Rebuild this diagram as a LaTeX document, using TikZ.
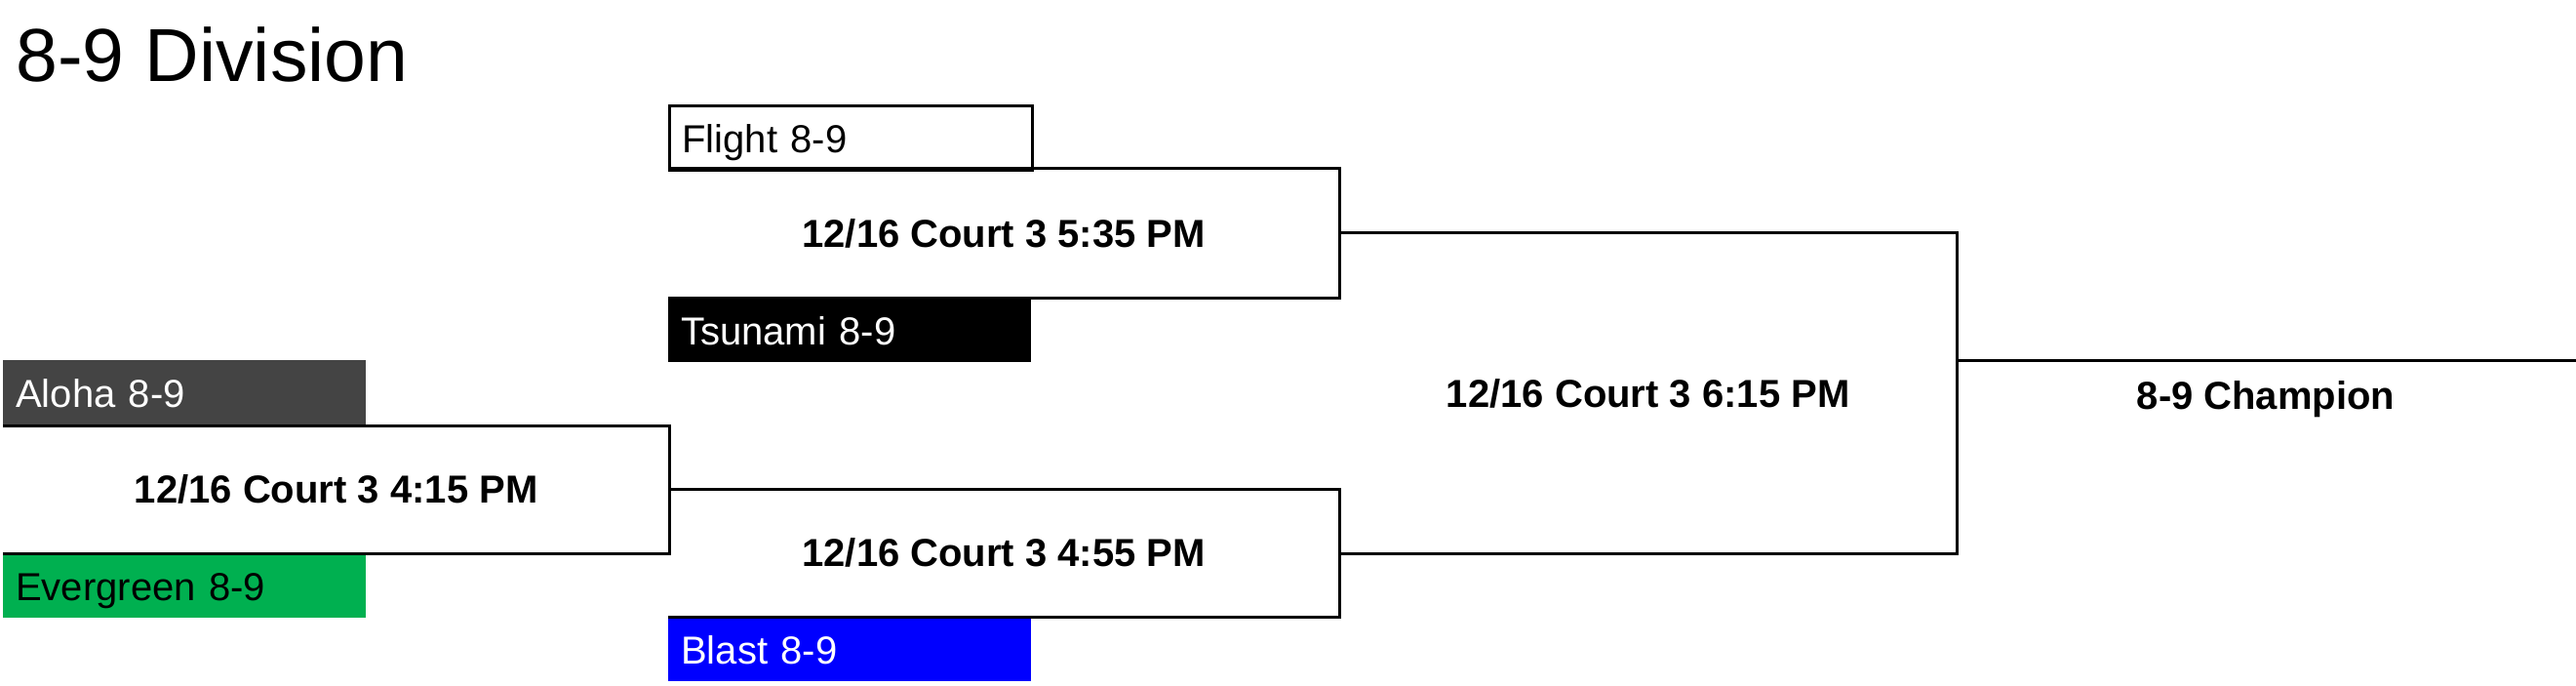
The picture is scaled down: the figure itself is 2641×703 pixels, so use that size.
\documentclass[tikz,border=0pt]{standalone}
\usepackage{fontspec}
\setmainfont{Liberation Sans}
\definecolor{aloha}{HTML}{444444}
\definecolor{evergreen}{HTML}{00B050}
\definecolor{blast}{HTML}{0000FF}

\begin{document}
\begin{tikzpicture}[
  x=1pt, y=-1pt,
  every node/.style = {inner sep=0pt, font=\fontsize{40}{48}\selectfont},
  team/.style = {anchor=north west, minimum height=66pt, inner xsep=13pt, text width=346pt, align=left, text height=36pt, text depth=5pt},
  game/.style = {anchor=north west, font=\fontsize{40}{48}\selectfont\bfseries},
  bracket/.style = {line width=3pt, draw=black, line join=miter}
]
  \useasboundingbox (0,0) rectangle (2641,703);

  \node[anchor=base west, font=\fontsize{77}{90}\selectfont] (title) at (16,84) {8-9 Division};

  % teams
  \node[team, draw, line width=3pt, fill=white] (flight) at (685,107) {Flight 8-9};
  \node[team, fill=black, text=white] (tsunami) at (685,305) {Tsunami 8-9};
  \node[team, fill=aloha, text=white] (aloha) at (3,369) {Aloha 8-9};
  \node[team, fill=evergreen, text=black] (evergreen) at (3,567) {Evergreen 8-9};
  \node[team, fill=blast, text=white] (blast) at (685,632) {Blast 8-9};

  % games
  \node[game, minimum width=688pt, minimum height=132pt] (g535) at (685,173) {12/16 Court 3 5:35 PM};
  \node[game, minimum width=683pt, minimum height=131pt] (g415) at (3,436) {12/16 Court 3 4:15 PM};
  \node[game, minimum width=688pt, minimum height=131pt] (g455) at (685,501) {12/16 Court 3 4:55 PM};
  \node[game, minimum width=633pt, minimum height=328pt] (g615) at (1373,239) {12/16 Court 3 6:15 PM};

  \foreach \g in {g535, g415, g455, g615}
    \draw[bracket] (\g.north west) -- (\g.north east) -- (\g.south east) -- (\g.south west);

  % champion
  \coordinate (champend) at (2641,369);
  \node[game, anchor=center] (champ) at (2323,409) {8-9 Champion};
  \draw[bracket] (g615.north east |- champend) -- (champend);
\end{tikzpicture}
\end{document}
